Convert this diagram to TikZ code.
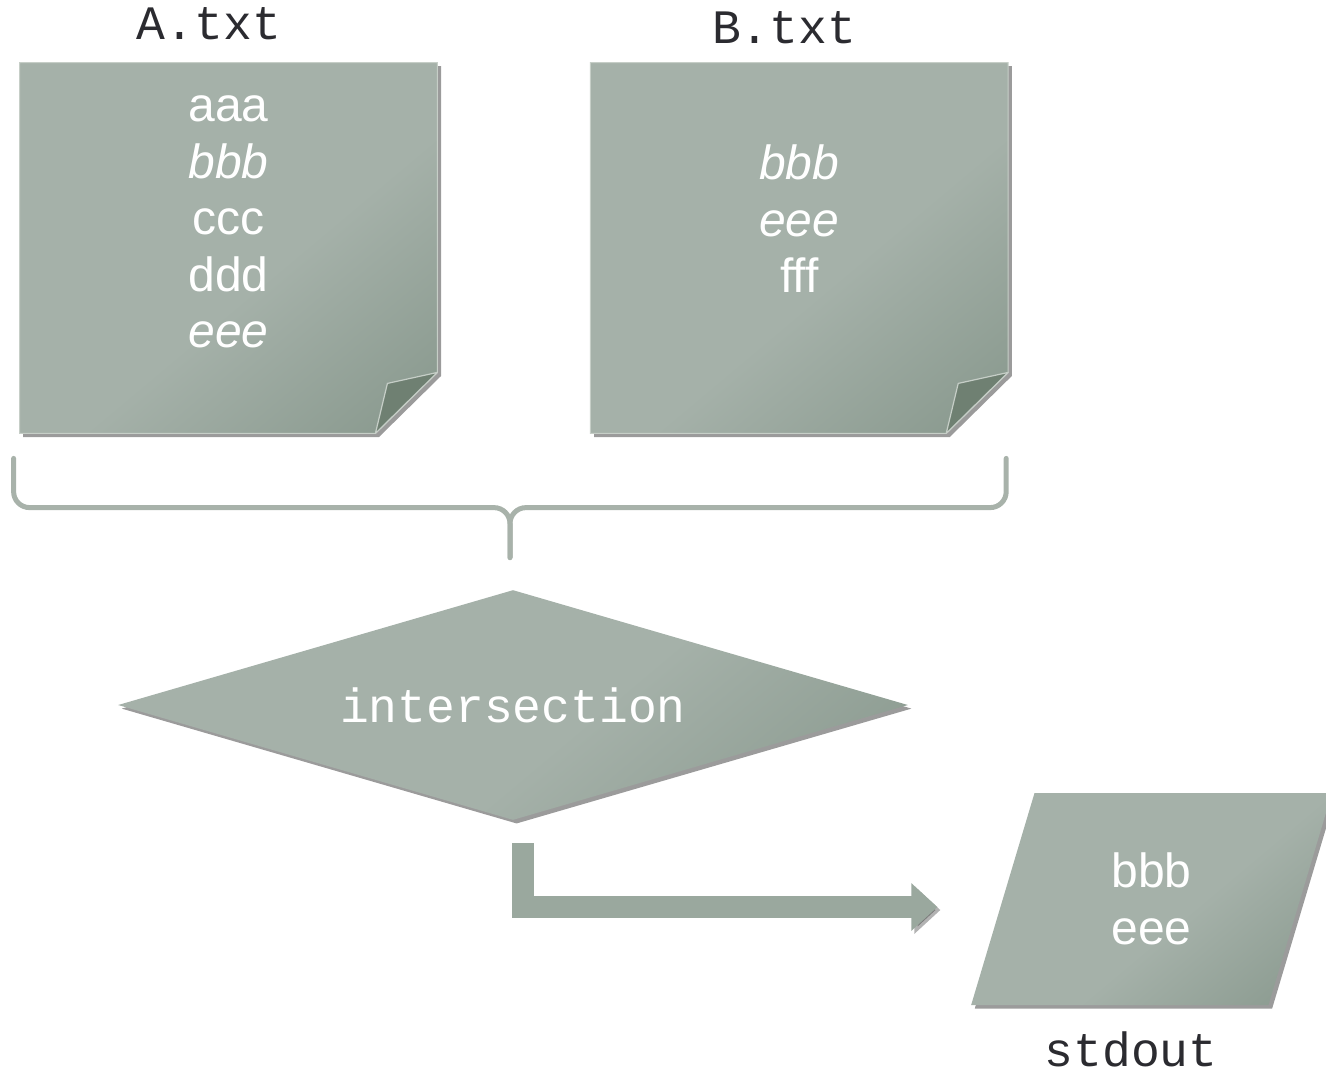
\documentclass[tikz,border=0pt]{standalone}
\usepackage{fontspec}
\setmainfont{Liberation Sans}
\setmonofont{Liberation Mono}
\usetikzlibrary{arrows.meta,positioning,shapes.geometric,shadows,calc}

\definecolor{sheetlight}{HTML}{A5B1A9}
\definecolor{sheetdark}{HTML}{89998E}
\definecolor{sheetfold}{HTML}{6F8072}
\definecolor{sheetedge}{HTML}{C6CEC7}
\definecolor{bracecol}{HTML}{A8B2AA}
\definecolor{labelcol}{HTML}{2B2B30}
\definecolor{flowcol}{HTML}{9AA89E}

% light paper, darkening towards the lower right corner
\pgfdeclareverticalshading{paperfade}{100bp}{%
  color(0bp)=(sheetdark); color(17bp)=(sheetdark);
  color(44bp)=(sheetlight); color(100bp)=(sheetlight)}

\begin{document}
\begin{tikzpicture}[
    x=0.5pt, y=-0.5pt,
    sheet/.style={
      rectangle,
      inner sep=0pt,
      minimum width=208.5pt,
      minimum height=185pt
    },
    paper/.style={
      shading=paperfade,
      shading angle=40,
      drop shadow={shadow xshift=1.8pt,shadow yshift=-1.8pt,
        opacity=0.6,fill=black!65}
    },
    fold/.style={
      fill=sheetfold,
      draw=sheetedge,
      line width=0.6pt,
      line join=round
    },
    lines/.style={
      align=center,
      anchor=base,
      text=white,
      inner sep=0pt,
      font=\fontsize{24}{28.25}\selectfont
    },
    filename/.style={
      anchor=base,
      text=labelcol,
      inner sep=0pt,
      font=\ttfamily\fontsize{24}{28}\selectfont
    },
    decision/.style={
      diamond,
      aspect=3.43,
      inner sep=0pt,
      minimum width=395pt,
      minimum height=115pt,
      text=white,
      font=\ttfamily\fontsize{24}{28}\selectfont,
      paper
    },
    output/.style={
      trapezium,
      trapezium left angle=76.7,
      trapezium right angle=103.3,
      trapezium stretches=true,
      inner sep=0pt,
      minimum width=181.5pt,
      minimum height=106pt,
      align=center,
      text=white,
      font=\fontsize{24}{28.25}\selectfont,
      paper
    },
    bracket/.style={
      draw=bracecol,
      line width=2.5pt,
      line cap=round,
      rounded corners=8pt
    },
    flow/.style={
      draw=flowcol,
      line width=11pt,
      line join=miter,
      -{Triangle[width=23pt,length=13pt]},
      preaction={draw=black,opacity=0.3,
        transform canvas={shift={(1.5pt,-1.5pt)}}}
    }
  ]
  \useasboundingbox (0,0) rectangle (1326,1072);

  % the two input files
  \node[sheet] (fileA) at (228.5,248) {};
  \node[sheet, right=76.5pt of fileA] (fileB) {};
  \foreach \f in {fileA,fileB} {
    \path[paper] (\f.north west) -- (\f.north east)
      -- ([shift={(0,-61)}]\f.south east)
      -- ([shift={(-62,0)}]\f.south east)
      -- (\f.south west) -- cycle;
    \draw[draw=sheetedge, line width=0.5pt] (\f.north west) -- (\f.north east)
      -- ([shift={(0,-61)}]\f.south east)
      -- ([shift={(-62,0)}]\f.south east)
      -- (\f.south west) -- cycle;
    \path[fold] ([shift={(0,-61)}]\f.south east)
      -- ([shift={(-50,-50)}]\f.south east)
      -- ([shift={(-62,0)}]\f.south east) -- cycle;
  }
  \node[filename] (nameA) at (209,39) {A.txt};
  \node[filename] (nameB) at (784,43) {B.txt};
  % base is the last line here
  \node[lines] (linesA) at ([shift={(0,285)}]fileA.north)
    {aaa\\\textit{bbb}\\ccc\\ddd\\\textit{eee}};
  \node[lines] (linesB) at ([shift={(0,230)}]fileB.north)
    {\textit{bbb}\\\textit{eee}\\fff};

  % comparison and result
  \node[decision] (cmp) at (513,705) {intersection};
  \node[output] (result) at (1151.5,899) {bbb\\eee};
  \node[filename] (nameOut) at (1131,1066) {stdout};

  % brace joining both files
  \coordinate (bl) at ([shift={(-6,25)}]fileA.south west);
  \coordinate (br) at ([shift={(-2,25)}]fileB.south east);
  \coordinate (tip) at ([shift={(-3,-32)}]cmp.north);
  \coordinate (cusp) at ([shift={(0,-50)}]tip);
  \draw[bracket] (bl) |- (cusp) -- (tip);
  \draw[bracket] (br) |- (cusp) -- (tip);

  \draw[flow] ([shift={(10,23)}]cmp.south) |- ([shift={(-65,8)}]result.west);
\end{tikzpicture}
\end{document}
